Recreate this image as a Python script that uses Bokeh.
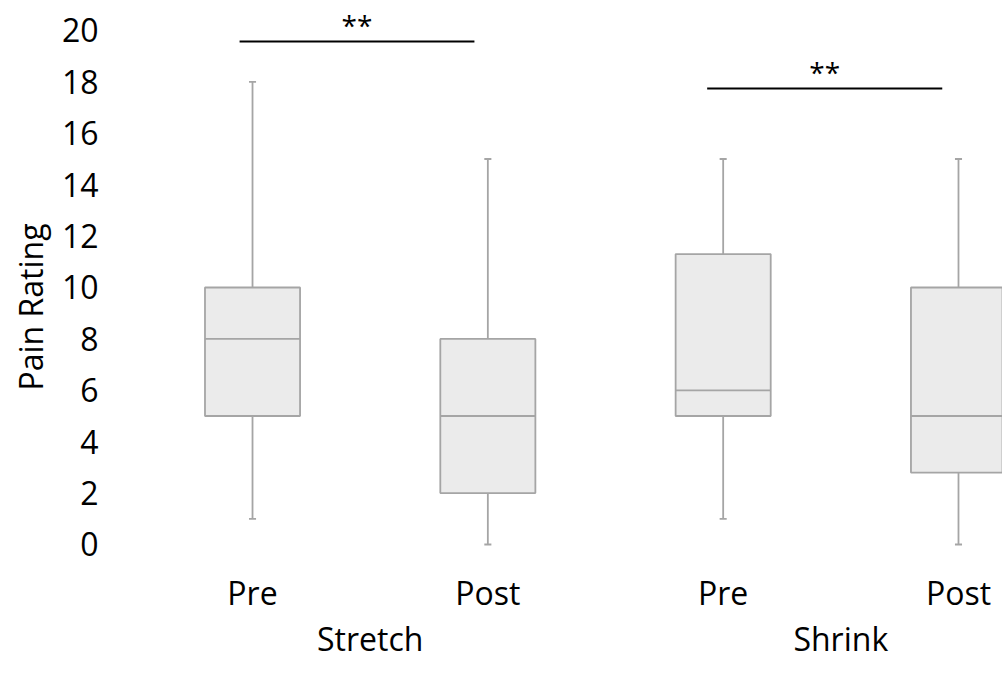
from bokeh.plotting import figure
from bokeh.models import Range1d, FixedTicker, ColumnDataSource, LinearAxis, Title
from bokeh.embed import file_html
from bokeh.resources import INLINE
from bokeh.core.properties import value

# ---- data ----
groups = ["Stretch", "Stretch", "Shrink", "Shrink"]
conditions = ["Pre", "Post", "Pre", "Post"]
whisker_low = [1, 0, 1, 0]
q1 = [5, 2, 5, 2.8]
median = [8, 5, 6, 5]
q3 = [10, 8, 11.3, 10]
whisker_high = [18, 15, 15, 15]
y_ticks = [0, 2, 4, 6, 8, 10, 12, 14, 16, 18, 20]
sig_labels = ["**", "**"]
sig_start = [0.945, 2.932]
sig_end = [1.943, 3.931]
sig_y = [19.57, 17.74]
group_names = ["Stretch", "Shrink"]

FONT = "Open Sans"
FS = "32px"
BOX_W = 0.404
CAP_W = 0.03
GRAY = "#a5a5a5"
FILL = "#ebebeb"

xs = [i + 1 for i in range(len(conditions))]

src = ColumnDataSource(dict(
    x=xs, lo=whisker_low, q1=q1, med=median, q3=q3, hi=whisker_high,
    xl=[x - BOX_W / 2 for x in xs], xr=[x + BOX_W / 2 for x in xs],
    cl=[x - CAP_W / 2 for x in xs], cr=[x + CAP_W / 2 for x in xs],
))

p = figure(width=1002, height=676, output_backend="svg", toolbar_location=None,
           x_range=Range1d(0.3965, 4.187), y_range=Range1d(-0.623, 21.167),
           min_border_left=110, min_border_right=0, min_border_top=0,
           min_border_bottom=116)
p.outline_line_color = None
p.grid.grid_line_color = None
p.background_fill_color = "white"
p.border_fill_color = "white"

# whiskers
p.segment(x0="x", y0="q3", x1="x", y1="hi", source=src, line_color=GRAY, line_width=1.8)
p.segment(x0="x", y0="lo", x1="x", y1="q1", source=src, line_color=GRAY, line_width=1.8)
p.segment(x0="cl", y0="hi", x1="cr", y1="hi", source=src, line_color=GRAY, line_width=1.8)
p.segment(x0="cl", y0="lo", x1="cr", y1="lo", source=src, line_color=GRAY, line_width=1.8)
# boxes
p.vbar(x="x", width=BOX_W, bottom="q1", top="q3", source=src,
       fill_color=FILL, line_color=GRAY, line_width=1.8)
# medians
p.segment(x0="xl", y0="med", x1="xr", y1="med", source=src, line_color=GRAY, line_width=1.8)

# significance bars
sig_src = ColumnDataSource(dict(x0=sig_start, x1=sig_end, y=sig_y,
                                xm=[(a + b) / 2 for a, b in zip(sig_start, sig_end)],
                                ty=[y + 0.64 for y in sig_y], t=sig_labels))
p.segment(x0="x0", y0="y", x1="x1", y1="y", source=sig_src, line_color="black", line_width=2)
p.text(x="xm", y="ty", text="t", source=sig_src, text_font=value(FONT),
       text_font_size="28px", text_align="center", text_baseline="middle",
       text_color="black")


def style_axis(ax, standoff):
    ax.axis_line_color = None
    ax.major_tick_line_color = None
    ax.minor_tick_line_color = None
    ax.major_tick_out = 0
    ax.major_tick_in = 0
    ax.minor_tick_out = 0
    ax.minor_tick_in = 0
    ax.major_label_text_font = FONT
    ax.major_label_text_font_size = FS
    ax.major_label_text_color = "black"
    ax.major_label_standoff = standoff


# axes
p.xaxis.ticker = FixedTicker(ticks=xs)
p.xaxis.major_label_overrides = {x: c for x, c in zip(xs, conditions)}
p.yaxis.ticker = FixedTicker(ticks=y_ticks)
style_axis(p.xaxis[0], 10)
style_axis(p.yaxis[0], 12)

# group axis
gpos = []
for g in group_names:
    gx = [x for x, gg in zip(xs, groups) if gg == g]
    gpos.append(sum(gx) / len(gx))
gaxis = LinearAxis(ticker=FixedTicker(ticks=gpos),
                   major_label_overrides={gp: g for gp, g in zip(gpos, group_names)})
style_axis(gaxis, 0)
p.add_layout(gaxis, "below")

# y axis title
p.add_layout(Title(text="Pain Rating", align="left", offset=170, standoff=10,
                   vertical_align="top", text_font=FONT, text_font_size=FS,
                   text_font_style="normal", text_color="black"), "left")

open("out.html", "w").write(file_html(p, INLINE))
